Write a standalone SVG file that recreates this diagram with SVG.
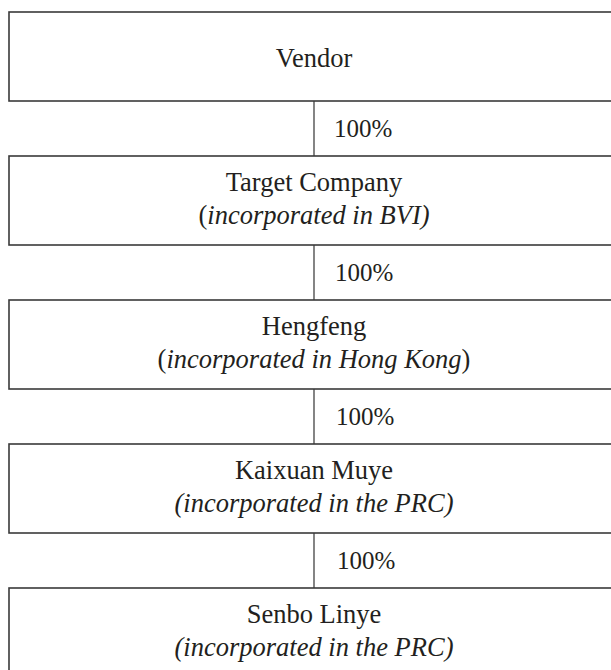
<svg xmlns="http://www.w3.org/2000/svg" width="611" height="670" viewBox="0 0 611 670">
<style>
.box{fill:#fff;stroke:#3a3a3a;stroke-width:1.6}
.t{font-family:"Liberation Serif","Times New Roman",serif;font-size:26.5px;fill:#231f20;text-anchor:middle}
.i{font-style:italic}
.p{font-family:"Liberation Serif","Times New Roman",serif;font-size:25px;fill:#231f20}
.c{stroke:#333;stroke-width:1.2;fill:none}
</style>
<rect width="611" height="670" fill="#fff"/>
<g id="connectors">
<line class="c" x1="314" y1="101" x2="314" y2="156"/>
<line class="c" x1="314" y1="245" x2="314" y2="300"/>
<line class="c" x1="314" y1="389" x2="314" y2="444"/>
<line class="c" x1="314" y1="533" x2="314" y2="588"/>
<text class="p" x="334" y="137">100%</text>
<text class="p" x="335" y="281">100%</text>
<text class="p" x="336" y="425">100%</text>
<text class="p" x="337" y="569">100%</text>
</g>
<g id="vendor">
<rect class="box" x="9" y="12" width="620" height="89"/>
<text class="t" x="314" y="67">Vendor</text>
</g>
<g id="target">
<rect class="box" x="9" y="156" width="620" height="89"/>
<text class="t" x="314" y="191">Target Company</text>
<text class="t" x="314" y="224">(<tspan class="i">incorporated in BVI)</tspan></text>
</g>
<g id="hengfeng">
<rect class="box" x="9" y="300" width="620" height="89"/>
<text class="t" x="314" y="335">Hengfeng</text>
<text class="t" x="314" y="368">(<tspan class="i">incorporated in Hong Kong</tspan>)</text>
</g>
<g id="kaixuan">
<rect class="box" x="9" y="444" width="620" height="89"/>
<text class="t" x="314" y="479">Kaixuan Muye</text>
<text class="t i" x="314" y="512">(incorporated in the PRC)</text>
</g>
<g id="senbo">
<rect class="box" x="9" y="588" width="620" height="100"/>
<text class="t" x="314" y="623">Senbo Linye</text>
<text class="t i" x="314" y="656">(incorporated in the PRC)</text>
</g>
</svg>
